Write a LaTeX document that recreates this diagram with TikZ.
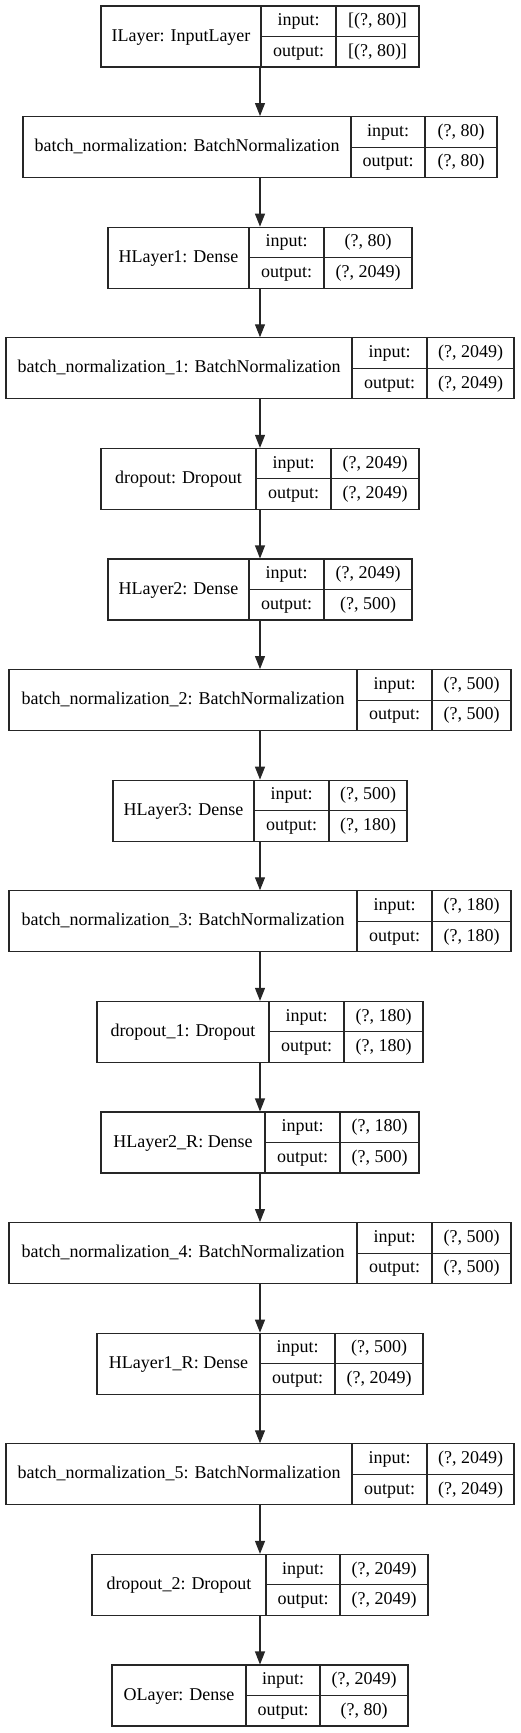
\documentclass[tikz,border=0pt]{standalone}
\usepackage{fontspec}
\setmainfont{Liberation Serif}
\usetikzlibrary{arrows.meta}

\newcommand{\layerrec}[9]{%
	\node[layerbox, minimum width={(#6-#3)*1pt}] (#1) at ({(#3+#6)/2},{#2+30.5}) {};
	\draw[rule] ({#4},{#2}) -- ({#4},{#2+61});
	\draw[rule] ({#5},{#2}) -- ({#5},{#2+61});
	\draw[rule] ({#4},{#2+30.5}) -- ({#6},{#2+30.5});
	\path ({(#3+#4)/2},{#2+30.5}) node [cell] (#1-name) {#7};
	\path ({(#4+#5)/2},{#2+15.25}) node [cell] (#1-inkey) {input:};
	\path ({(#4+#5)/2},{#2+45.75}) node [cell] (#1-outkey) {output:};
	\path ({(#5+#6)/2},{#2+15.25}) node [cell] (#1-in) {#8};
	\path ({(#5+#6)/2},{#2+45.75}) node [cell] (#1-out) {#9};
}

\begin{document}
\begin{tikzpicture}[x=1pt,y=-1pt,
	rule/.style={line width=1.1pt, draw=black!85},
	layerbox/.style={rectangle, rule, inner sep=0pt, minimum height=61pt},
	cell/.style={inner sep=0pt, font=\fontsize{18}{21}\selectfont, text height=12.5pt, text depth=3.5pt},
	flow/.style={rule, -{Triangle[length=13pt,width=10pt]}}]
	\useasboundingbox (0,0) rectangle (520,1733);
	\layerrec{ilayer}{6}{101}{261}{336}{419}{ILayer: InputLayer}{[(?, 80)]}{[(?, 80)]}
	\layerrec{bn}{116.6}{23}{351}{425}{497}{batch\_normalization: BatchNormalization}{(?, 80)}{(?, 80)}
	\layerrec{hlayer1}{227.2}{108}{249}{324}{412}{HLayer1: Dense}{(?, 80)}{(?, 2049)}
	\layerrec{bn1}{337.8}{6}{352}{427}{514}{batch\_normalization\_1: BatchNormalization}{(?, 2049)}{(?, 2049)}
	\layerrec{dropout}{448.4}{101}{256}{331}{419}{dropout: Dropout}{(?, 2049)}{(?, 2049)}
	\layerrec{hlayer2}{559}{108}{249}{324}{412}{HLayer2: Dense}{(?, 2049)}{(?, 500)}
	\layerrec{bn2}{669.6}{9}{357}{432}{511}{batch\_normalization\_2: BatchNormalization}{(?, 500)}{(?, 500)}
	\layerrec{hlayer3}{780.2}{113}{254}{329}{407}{HLayer3: Dense}{(?, 500)}{(?, 180)}
	\layerrec{bn3}{890.8}{9}{357}{432}{511}{batch\_normalization\_3: BatchNormalization}{(?, 180)}{(?, 180)}
	\layerrec{dropout1}{1001.4}{97}{269}{344}{423}{dropout\_1: Dropout}{(?, 180)}{(?, 180)}
	\layerrec{hlayer2r}{1112}{101}{265}{340}{419}{HLayer2\_R: Dense}{(?, 180)}{(?, 500)}
	\layerrec{bn4}{1222.6}{9}{357}{432}{511}{batch\_normalization\_4: BatchNormalization}{(?, 500)}{(?, 500)}
	\layerrec{hlayer1r}{1333.2}{97}{260}{335}{423}{HLayer1\_R: Dense}{(?, 500)}{(?, 2049)}
	\layerrec{bn5}{1443.8}{6}{352}{427}{514}{batch\_normalization\_5: BatchNormalization}{(?, 2049)}{(?, 2049)}
	\layerrec{dropout2}{1554.4}{92}{266}{340}{428}{dropout\_2: Dropout}{(?, 2049)}{(?, 2049)}
	\layerrec{olayer}{1665}{112}{246}{320}{408}{OLayer: Dense}{(?, 2049)}{(?, 80)}
	\draw[flow] (ilayer.south) -- (bn.north);
	\draw[flow] (bn.south) -- (hlayer1.north);
	\draw[flow] (hlayer1.south) -- (bn1.north);
	\draw[flow] (bn1.south) -- (dropout.north);
	\draw[flow] (dropout.south) -- (hlayer2.north);
	\draw[flow] (hlayer2.south) -- (bn2.north);
	\draw[flow] (bn2.south) -- (hlayer3.north);
	\draw[flow] (hlayer3.south) -- (bn3.north);
	\draw[flow] (bn3.south) -- (dropout1.north);
	\draw[flow] (dropout1.south) -- (hlayer2r.north);
	\draw[flow] (hlayer2r.south) -- (bn4.north);
	\draw[flow] (bn4.south) -- (hlayer1r.north);
	\draw[flow] (hlayer1r.south) -- (bn5.north);
	\draw[flow] (bn5.south) -- (dropout2.north);
	\draw[flow] (dropout2.south) -- (olayer.north);
\end{tikzpicture}
\end{document}
